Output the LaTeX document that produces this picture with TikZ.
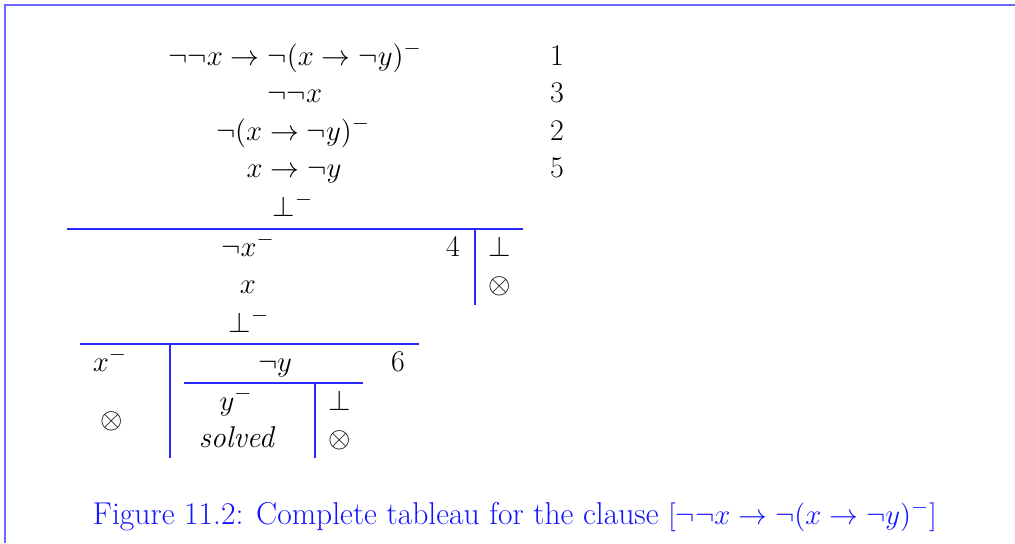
\documentclass[tikz,border=0pt]{standalone}
\usepackage{amssymb}
\definecolor{frameblue}{RGB}{105,105,255}
\definecolor{lineblue}{RGB}{40,40,255}
\definecolor{capblue}{RGB}{20,20,255}
\begin{document}
\begin{tikzpicture}[x=0.5pt,y=-0.5pt,
  t/.style={anchor=base,inner sep=0pt,font=\fontsize{15}{18}\selectfont},
  rule/.style={draw=lineblue,line width=0.6pt},
  frame/.style={draw=frameblue,line width=1.1pt}]
\useasboundingbox (0,0) rectangle (1015,543);
\coordinate (ftl) at (5,5);
\coordinate (ftr) at (1015,5);
\coordinate (fbl) at (5,543);
\draw[frame] (ftr) -- (ftl) -- (fbl);
% top rows
\node[t] (r1) at (295,65) {$\neg\neg x \to \neg(x \to \neg y)^-$};
\node[t] (n1) at (557,65) {1};
\node[t] (r2) at (295,102) {$\neg\neg x$};
\node[t] (n3) at (557,102) {3};
\node[t] (r3) at (293,140) {$\neg(x \to \neg y)^-$};
\node[t] (n2) at (557,140) {2};
\node[t] (r4) at (294,177) {$x \to \neg y$};
\node[t] (n5) at (557,177) {5};
\node[t] (b1) at (293,216) {$\bot^-$};
% first split
\coordinate (h1l) at (67,229);
\coordinate (h1r) at (523,229);
\coordinate (v1t) at (475,229);
\coordinate (v1b) at (475,305);
\draw[rule] (h1l) -- (h1r);
\draw[rule] (v1t) -- (v1b);
\node[t] (nx) at (248,256) {$\neg x^-$};
\node[t] (n4) at (453,256) {4};
\node[t] (bt1) at (500,256) {$\bot$};
\node[t] (x1) at (248,293) {$x$};
\node[t] (ot1) at (500,293) {$\otimes$};
\node[t] (b2) at (249,332) {$\bot^-$};
% second split
\coordinate (h2l) at (80,344);
\coordinate (h2r) at (419,344);
\coordinate (v2t) at (170,344);
\coordinate (v2b) at (170,458);
\draw[rule] (h2l) -- (h2r);
\draw[rule] (v2t) -- (v2b);
\node[t] (xm) at (110,371) {$x^-$};
\node[t,anchor=center] (ot2) at (112,421) {$\otimes$};
\node[t] (ny) at (275,371) {$\neg y$};
\node[t] (n6) at (398,371) {6};
% third split
\coordinate (h3l) at (184,383);
\coordinate (h3r) at (363,383);
\coordinate (v3t) at (315,383);
\coordinate (v3b) at (315,458);
\draw[rule] (h3l) -- (h3r);
\draw[rule] (v3t) -- (v3b);
\node[t] (ym) at (236,410) {$y^-$};
\node[t] (sv) at (237,447) {\textit{solved}};
\node[t] (bt3) at (340,410) {$\bot$};
\node[t] (ot3) at (340,447) {$\otimes$};
% caption
\node[t,text=capblue,font=\fontsize{15.8}{19}\selectfont] (cap) at (515,524) {Figure 11.2: Complete tableau for the clause $[\neg\neg x \to \neg(x \to \neg y)^-]$};
\end{tikzpicture}
\end{document}
